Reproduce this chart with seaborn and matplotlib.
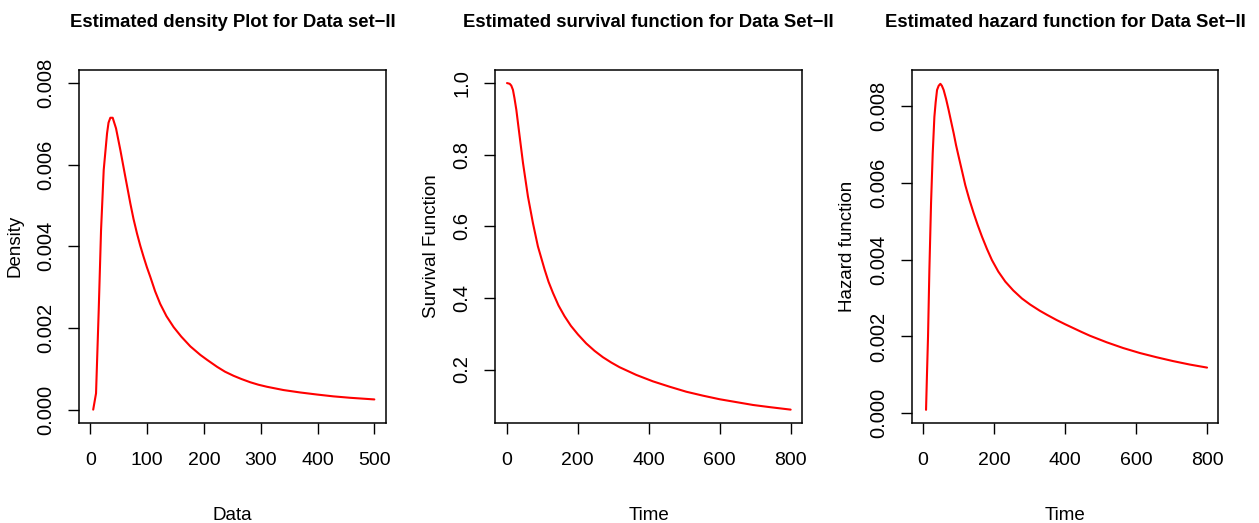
import numpy as np
import matplotlib
matplotlib.use("Agg")
import matplotlib.pyplot as plt
import seaborn as sns
import pandas as pd

# values
dens_x = [5, 10, 14.7, 18.8, 23.5, 29.4, 32, 35.2, 39.3, 45.2, 52.8, 61.6, 70.4, 76,
          82.2, 88, 93.8, 99.5, 105.6, 114, 123, 134, 146.7, 160, 176, 193.7, 205.5,
          223, 237, 252, 266, 281.7, 296, 311, 340, 369.7, 399, 428, 457.7, 500]
dens_y = [0, 0.0004, 0.00243, 0.00439, 0.00587, 0.00677, 0.00703, 0.00715, 0.00715,
          0.00689, 0.00636, 0.0057, 0.00505, 0.00467, 0.00431, 0.00401, 0.00374,
          0.00349, 0.00325, 0.0029, 0.00259, 0.00229, 0.00202, 0.00179, 0.00155,
          0.00134, 0.00122, 0.00105, 0.00093, 0.00083, 0.00075, 0.00067, 0.00061,
          0.00056, 0.00048, 0.00042, 0.00037, 0.000325, 0.00029, 0.00025]

surv_x = [1, 8.5, 13, 17.7, 22, 27.3, 31.8, 36.6, 46, 60, 74, 88, 107, 118, 130.4,
          146, 163, 181, 200.8, 224, 247.8, 271, 294.8, 318, 365, 412, 459, 506, 553,
          600, 647, 694, 741, 800]
surv_y = [1.0, 0.998, 0.993, 0.981, 0.958, 0.925, 0.889, 0.851, 0.777, 0.683, 0.609,
          0.544, 0.479, 0.445, 0.414, 0.379, 0.349, 0.322, 0.298, 0.273, 0.252, 0.2345,
          0.2195, 0.2065, 0.185, 0.167, 0.152, 0.138, 0.127, 0.117, 0.109, 0.101, 0.095,
          0.088]

haz_x = [8.4, 11, 14, 17.8, 22.5, 27.2, 31.9, 35.5, 39.4, 44, 48.8, 53, 58, 65, 72,
         79, 86.3, 93, 100.4, 110, 119, 130, 142.6, 154, 166, 180, 194, 212, 231.6,
         254, 278.5, 302, 329, 350, 376, 400, 423, 446, 470, 517, 563.6, 610.6, 657.5,
         704, 751, 800]
haz_y = [0.00009, 0.001, 0.002, 0.00373, 0.00547, 0.00677, 0.00772, 0.0081, 0.00842,
         0.00853, 0.00858, 0.00853, 0.00842, 0.00818, 0.0079, 0.0076, 0.00729,
         0.00698, 0.00668, 0.0063, 0.00594, 0.00558, 0.00521, 0.0049, 0.0046,
         0.00428, 0.00399, 0.00369, 0.00343, 0.0032, 0.00299, 0.00283, 0.00267,
         0.00256, 0.00243, 0.00232, 0.00222, 0.00212, 0.00202, 0.00185, 0.0017,
         0.00157, 0.00146, 0.00136, 0.00127, 0.00119]

titles = ["Estimated density Plot for Data set\u2212II",
          "Estimated survival function for Data Set\u2212II",
          "Estimated hazard function for Data Set\u2212II"]
xlabels = ["Data", "Time", "Time"]
ylabels = ["Density", "Survival Function", "Hazard function"]
xticks = [[0, 100, 200, 300, 400, 500], [0, 200, 400, 600, 800], [0, 200, 400, 600, 800]]
yticks = [[0, 0.002, 0.004, 0.006, 0.008], [0.2, 0.4, 0.6, 0.8, 1.0],
          [0, 0.002, 0.004, 0.006, 0.008]]
yfmt = ["%.3f", "%.1f", "%.3f"]
xlims = [(-20, 520), (-32, 832), (-32, 832)]
ylims = [(-0.00032, 0.00832), (0.0515, 1.0365), (-0.000245, 0.00894)]

sns.set_style("white")
plt.rcParams['font.family'] = ['Liberation Sans', 'DejaVu Sans']
plt.rcParams['text.color'] = 'black'
plt.rcParams['axes.labelcolor'] = 'black'

fig = plt.figure(figsize=(12.59, 5.23), dpi=100)
lefts = [79 / 1259, 495.3 / 1259, 911.7 / 1259]
axes = [fig.add_axes([l, 100.3 / 523, 306.7 / 1259, 352.7 / 523]) for l in lefts]

curves = [(dens_x, dens_y), (surv_x, surv_y), (haz_x, haz_y)]
for i, ax in enumerate(axes):
    df = pd.DataFrame({"x": curves[i][0], "y": curves[i][1]})
    sns.lineplot(data=df, x="x", y="y", ax=ax, color="red", linewidth=1.5,
                 sort=False, estimator=None)
    ax.set_xlim(*xlims[i])
    ax.set_ylim(*ylims[i])
    ax.set_xticks(xticks[i])
    ax.set_yticks(yticks[i])
    ax.set_yticklabels([yfmt[i] % v for v in yticks[i]])
    for s in ax.spines.values():
        s.set_visible(True)
        s.set_color("black")
        s.set_linewidth(1.1)
    ax.tick_params(direction="out", length=8, width=1.0, colors="black",
                   labelsize=14.5, bottom=True, left=True)
    ax.tick_params(axis="x", pad=13, labelsize=14)
    ax.tick_params(axis="y", pad=9)
    plt.setp(ax.get_yticklabels(), rotation=90, va="center")
    ax.set_title(titles[i], fontsize=13.3, fontweight="bold", pad=31, color="black")
    ax.set_xlabel(xlabels[i], fontsize=13.5, color="black")
    ax.set_ylabel(ylabels[i], fontsize=13.5, color="black")
    ax.xaxis.set_label_coords(0.5, -0.238)
    ax.yaxis.set_label_coords(-0.181, 0.5)
    ax.xaxis.label.set_va("top")

fig.savefig("out.png", dpi=100)
